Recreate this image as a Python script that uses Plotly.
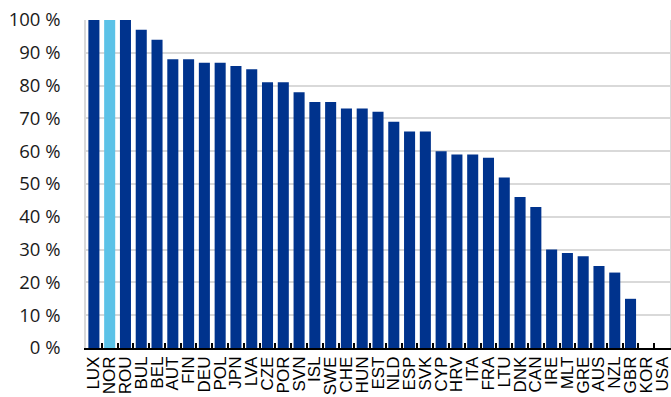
import plotly.graph_objects as go

countries = ["LUX", "NOR", "ROU", "BUL", "BEL", "AUT", "FIN", "DEU", "POL", "JPN",
             "LVA", "CZE", "POR", "SVN", "ISL", "SWE", "CHE", "HUN", "EST", "NLD",
             "ESP", "SVK", "CYP", "HRV", "ITA", "FRA", "LTU", "DNK", "CAN", "IRE",
             "MLT", "GRE", "AUS", "NZL", "GBR", "KOR", "USA"]
shares = [100, 100, 100, 97, 94, 88, 88, 87, 87, 86,
          85, 81, 81, 78, 75, 75, 73, 73, 72, 69,
          66, 66, 60, 59, 59, 58, 52, 46, 43, 30,
          29, 28, 25, 23, 15, 0, 0]
highlight = "NOR"

dark_blue = "#00338D"
light_blue = "#5BC2E7"
colors = [light_blue if c == highlight else dark_blue for c in countries]

fig = go.Figure(go.Bar(
    x=countries, y=shares,
    marker=dict(color=colors, line=dict(width=0)),
))

fig.update_layout(
    width=671, height=397,
    margin=dict(l=86, r=1, t=20, b=49),
    paper_bgcolor="white", plot_bgcolor="white",
    bargap=0.3, showlegend=False,
)
fig.update_xaxes(
    type="category", showgrid=False,
    tickmode="linear", tick0=0, dtick=1,
    showline=True, linecolor="black", linewidth=1.5,
    ticks="inside", tickson="boundaries", ticklen=5, tickwidth=1.5, tickcolor="black",
    tickangle=-90, tickfont=dict(family="Liberation Sans, Arial", size=17, color="black"),
    automargin=False,
)
fig.update_yaxes(
    range=[0, 100], dtick=10, ticksuffix=" %",
    showgrid=True, gridcolor="#d9d9d9", gridwidth=2,
    showline=True, linecolor="#d9d9d9", linewidth=1.5, mirror=True,
    zeroline=False, ticks="", ticklabelstandoff=20,
    tickfont=dict(family="Open Sans", size=18.5, color="#1a1a1a"),
    automargin=False,
)

fig.write_html("out.html")
